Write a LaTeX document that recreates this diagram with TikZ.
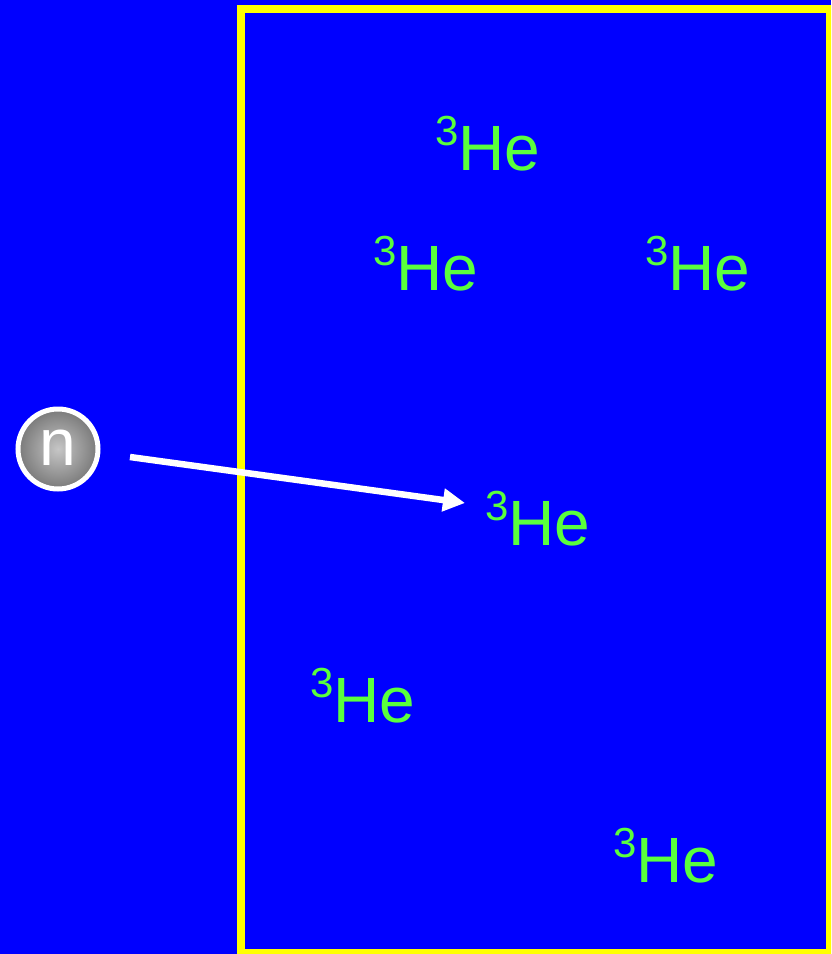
\documentclass[tikz,border=0pt]{standalone}
\usepackage{fontspec}
\setmainfont{Liberation Sans}
\usetikzlibrary{arrows.meta}
\definecolor{bgblue}{RGB}{0,0,255}
\definecolor{heGreen}{RGB}{90,255,60}
\definecolor{frameYellow}{RGB}{255,255,0}
\newcommand{\helium}{\raisebox{25pt}{\fontsize{42}{42}\selectfont 3}\fontsize{64}{64}\selectfont He}
\tikzset{
  helabel/.style={anchor=base west, inner sep=0pt, text=heGreen, font=\fontsize{64}{64}\selectfont},
  neutron/.style={circle, draw=white, line width=5pt, minimum size=80pt, inner sep=0pt,
    inner color=gray!45, outer color=gray!95!black, text=white, font=\fontsize{66}{66}\selectfont},
  flight/.style={draw=white, line width=6.5pt, -{Triangle[length=22pt,width=22pt]}}
}
\begin{document}
\begin{tikzpicture}[x=1pt,y=-1pt]
\useasboundingbox (0,0) rectangle (831,954);
\clip (0,0) rectangle (831,954);
\fill[bgblue] (0,0) rectangle (831,954);
\draw[frameYellow, line width=8pt] (241,9) rectangle (830,953);
\node[helabel] (he1) at (435,170) {\helium};
\node[helabel] (he2) at (373,290) {\helium};
\node[helabel] (he3) at (645,290) {\helium};
\node[helabel] (he4) at (485,545) {\helium};
\node[helabel] (he5) at (310,722) {\helium};
\node[helabel] (he6) at (613,882) {\helium};
\node[neutron] (n) at (58,449) {\raisebox{3pt}{n}};
\coordinate (start) at (130,457);
\coordinate (target) at (465,503);
\draw[flight] (start) -- (target);
\end{tikzpicture}
\end{document}
